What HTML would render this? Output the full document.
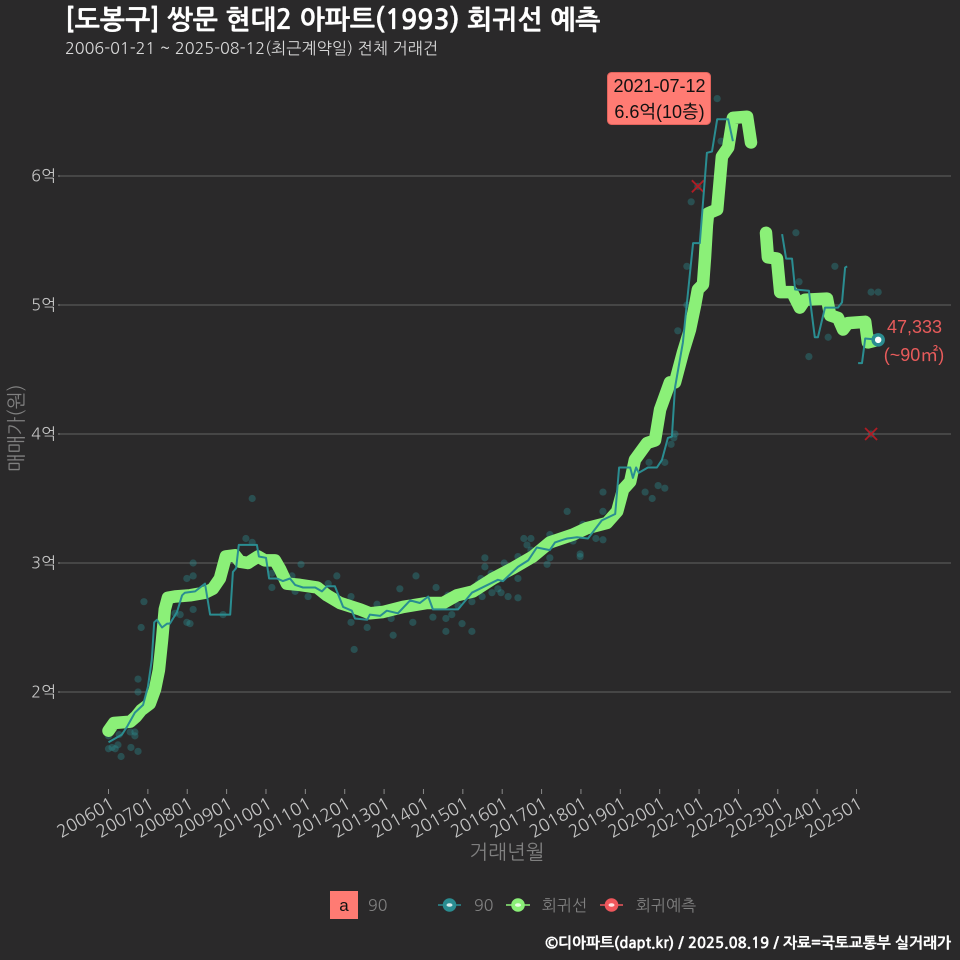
<!DOCTYPE html>
<html lang="ko">
<head>
<meta charset="utf-8">
<title>쌍문 현대2 아파트 회귀선 예측</title>
<style>
html,body{margin:0;padding:0;background:#2a292a;width:960px;height:960px;overflow:hidden}
svg{display:block}
text{font-family:"NanumGothic","Noto Sans CJK KR","Liberation Sans",sans-serif}
.sans{font-family:"Liberation Sans","Noto Sans CJK KR",sans-serif}
</style>
</head>
<body>
<svg id="chart" width="960" height="960" viewBox="0 0 960 960" xmlns="http://www.w3.org/2000/svg">
  <rect x="0" y="0" width="960" height="960" fill="#2a292a"/>
  <text x="65" y="29" font-size="26.8" font-weight="700" fill="#ffffff" stroke="#ffffff" stroke-width="0.3">[도봉구] 쌍문 현대2 아파트(1993) 회귀선 예측</text>
  <text x="65" y="54" font-size="16.2" fill="#d8d8d8">2006-01-21 ~ 2025-08-12(최근계약일) 전체 거래건</text>
  <g id="grid"></g>
  <g id="yaxis"></g>
  <g id="xaxis"></g>
  <text transform="translate(23,428) rotate(-90)" text-anchor="middle" font-size="19.5" fill="#808080">매매가(원)</text>
  <text x="507" y="859" text-anchor="middle" font-size="20" fill="#808080">거래년월</text>
  <g id="scatter"></g>
  <g id="outliers"></g>
  <g id="lines"></g>
  <g id="endpoint"></g>

  <g>
    <rect x="607.5" y="72.5" width="103" height="52" rx="4" fill="#ff7b73" stroke="#e2635c" stroke-width="1"/>
    <text class="sans" x="659.5" y="92" text-anchor="middle" font-size="18" fill="#111">2021-07-12</text>
    <text class="sans" x="659.5" y="118" text-anchor="middle" font-size="18" fill="#111">6.6억(10층)</text>
  </g>
  <text class="sans" x="914.5" y="333" text-anchor="middle" font-size="18" fill="#e85b5b">47,333</text>
  <text class="sans" x="914" y="361" text-anchor="middle" font-size="18" fill="#e85b5b">(~90㎡)</text>

  <g>
    <rect x="330" y="891" width="28" height="28" fill="#ff7b73"/>
    <text class="sans" x="344" y="911" text-anchor="middle" font-size="17" fill="#111">a</text>
    <text x="368" y="911" font-size="16" fill="#808080">90</text>

    <g>
      <line x1="438" x2="461" y1="905" y2="905" stroke="#2a8d91" stroke-width="1.5"/>
      <circle cx="449.5" cy="905" r="6.8" fill="#2a8d91"/>
      <ellipse cx="449.5" cy="905" rx="3" ry="1.8" fill="#d8ecec"/>
      <text x="474" y="911" font-size="16" fill="#808080">90</text>
    </g>
    <g>
      <line x1="506" x2="530" y1="905" y2="905" stroke="#8bf078" stroke-width="1.5"/>
      <circle cx="518" cy="905" r="6.8" fill="#8bf078"/>
      <ellipse cx="518" cy="905" rx="3" ry="1.8" fill="#e8fbe3"/>
      <text x="542" y="911" font-size="16" fill="#808080">회귀선</text>
    </g>
    <g>
      <line x1="600" x2="623" y1="905" y2="905" stroke="#f0575c" stroke-width="1.5"/>
      <circle cx="611.5" cy="905" r="6.8" fill="#f0575c"/>
      <ellipse cx="611.5" cy="905" rx="3" ry="1.8" fill="#fde3e3"/>
      <text x="636" y="911" font-size="16" fill="#808080">회귀예측</text>
    </g>
  </g>
  <text x="951" y="948" text-anchor="end" font-size="14.9" font-weight="700" fill="#ffffff" stroke="#ffffff" stroke-width="0.3">©디아파트(dapt.kr) / 2025.08.19 / 자료=국토교통부 실거래가</text>
</svg>
<script>
// ---- tick labels ----
var yTickValues = [2, 3, 4, 5, 6];
var yTickLabels = ['2억', '3억', '4억', '5억', '6억'];
var xTickYears = [2006,2007,2008,2009,2010,2011,2012,2013,2014,2015,2016,2017,2018,2019,2020,2021,2022,2023,2024,2025];
var xTickLabels = ['200601','200701','200801','200901','201001','201101','201201','201301','201401','201501','201601','201701','201801','201901','202001','202101','202201','202301','202401','202501'];

// ---- regression line (time in decimal years, price in 억; null = gap) ----
var regTimes = [2006.00,2006.14,2006.55,2006.70,2006.83,2007.05,2007.18,2007.28,2007.36,2007.43,2007.51,2007.69,2008.07,2008.45,2008.65,2008.83,2008.98,2009.21,2009.34,2009.54,2009.64,2009.80,2009.97,2010.23,2010.36,2010.53,2010.86,2011.30,2011.55,2011.88,2012.39,2012.64,2012.97,2013.48,2014.09,2014.50,2014.85,2015.26,2015.77,2016.27,2016.78,2017.21,2017.80,2018.15,2018.66,2018.92,2019.07,2019.25,2019.37,2019.68,2019.88,2020.01,2020.26,2020.39,2020.59,2020.77,2020.90,2020.97,2021.10,2021.15,2021.20,2021.23,2021.46,2021.58,2021.74,2021.86,2022.22,2022.32,null,2022.70,2022.75,2022.98,2023.06,2023.36,2023.56,2023.69,2024.25,2024.33,2024.53,2024.66,2024.78,2025.22,2025.29,2025.55];
var regPrices = [1.70,1.76,1.77,1.81,1.86,1.91,2.02,2.17,2.40,2.64,2.73,2.74,2.75,2.77,2.80,2.88,3.05,3.06,3.01,3.00,3.02,3.05,3.02,3.02,2.95,2.84,2.83,2.81,2.75,2.69,2.64,2.61,2.62,2.66,2.69,2.69,2.75,2.78,2.88,2.96,3.05,3.16,3.22,3.27,3.31,3.40,3.57,3.63,3.80,3.93,3.95,4.19,4.40,4.40,4.63,4.81,5.00,5.12,5.16,5.37,5.62,5.71,5.74,6.15,6.22,6.45,6.46,6.26,null,5.56,5.37,5.36,5.10,5.10,4.98,5.04,5.05,4.92,4.90,4.81,4.86,4.87,4.71,4.73];

// ---- moving average line for 90㎡ (null = gap) ----
var avgTimes = [2006.00,2006.34,2006.47,2006.67,2006.88,2007.00,2007.10,2007.16,2007.23,2007.36,2007.49,2007.56,2007.74,2007.87,2007.94,2008.20,2008.45,2008.58,2009.09,2009.16,2009.24,2009.31,2009.77,2009.82,2010.00,2010.08,2010.28,2010.43,2010.61,2010.74,2010.94,2011.25,2011.42,2011.55,2011.75,2011.96,2012.18,2012.26,2012.57,2012.64,2012.90,2013.07,2013.35,2013.66,2013.91,2014.12,2014.24,2014.88,2015.23,2015.89,2016.02,2016.40,2016.66,2016.88,2017.21,2017.34,2017.54,2017.65,2017.90,2018.18,2018.53,2018.87,2018.97,2019.25,2019.32,2019.40,2019.47,2019.70,2019.93,2020.06,2020.21,2020.31,2020.39,2020.59,2020.77,2020.85,2021.02,2021.20,2021.33,2021.46,2021.74,2021.86,null,2023.11,2023.21,2023.36,2023.44,2023.79,2023.94,2024.02,2024.20,2024.53,2024.63,2024.71,2024.76,null,2025.04,2025.14,2025.22,2025.55];
var avgPrices = [1.61,1.67,1.73,1.84,1.90,2.04,2.25,2.54,2.56,2.50,2.53,2.53,2.62,2.75,2.77,2.78,2.84,2.60,2.60,2.93,2.96,3.14,3.14,3.05,3.04,2.88,2.88,2.86,2.88,2.83,2.81,2.81,2.78,2.82,2.82,2.66,2.63,2.57,2.56,2.60,2.59,2.63,2.61,2.71,2.69,2.74,2.64,2.64,2.77,2.87,2.86,2.97,3.02,3.12,3.10,3.16,3.18,3.19,3.20,3.19,3.33,3.38,3.74,3.74,3.66,3.74,3.70,3.74,3.74,3.80,3.97,3.98,4.36,4.71,5.25,5.48,5.48,6.18,6.19,6.44,6.44,6.27,null,5.55,5.36,5.36,5.12,5.11,4.75,4.75,4.98,4.98,5.02,5.29,5.30,null,4.55,4.55,4.74,4.73];

// ---- individual transactions ----
var dealTimes = [2009.65,2009.49,2009.65,2008.15,2008.15,2007.99,2006.90,2006.83,2006.75,2006.75,2008.15,2007.82,2007.99,2008.07,2008.91,2007.69,2010.15,2010.15,2010.74,2011.07,2010.66,2010.89,2011.58,2011.80,2012.16,2012.16,2012.24,2006.57,2006.75,2006.32,2006.00,2006.17,2006.24,2006.09,2006.27,2006.55,2006.67,2006.67,2006.00,2012.57,2013.23,2012.82,2013.18,2013.73,2013.40,2013.81,2014.24,2014.32,2014.57,2014.57,2014.72,2014.98,2015.23,2014.88,2015.23,2014.62,2015.49,2015.74,2015.97,2016.15,2016.40,2016.40,2015.89,2015.39,2015.46,2015.72,2015.56,2015.56,2016.05,2016.40,2016.55,2016.73,2016.63,2016.73,2017.21,2017.14,2017.21,2017.65,2018.05,2017.80,2017.98,2017.98,2018.38,2018.56,2018.56,2018.56,2019.63,2019.81,2019.96,2020.13,2019.73,2020.13,2020.39,2020.36,2020.29,2020.46,2020.69,2020.69,2021.46,2021.56,2020.80,2023.46,2023.54,2024.45,2024.28,2023.79,2025.37,2025.55,2020.97,2025.37];
var dealPrices = [3.50,3.19,3.16,3.00,2.90,2.88,2.70,2.50,2.10,2.00,2.64,2.60,2.54,2.53,2.60,2.61,2.81,2.92,2.78,2.74,2.90,2.99,2.84,2.90,2.74,2.54,2.33,1.57,1.54,1.50,1.56,1.56,1.59,1.57,1.67,1.69,1.69,1.66,1.66,2.50,2.44,2.68,2.57,2.54,2.80,2.90,2.58,2.81,2.57,2.47,2.60,2.53,2.47,2.67,2.70,2.75,2.74,2.77,2.77,2.74,2.73,2.88,2.80,2.84,2.88,2.92,2.97,3.04,3.00,3.05,3.19,3.19,3.14,3.10,3.04,2.99,3.22,3.40,3.30,3.17,3.07,3.05,3.19,3.18,3.40,3.55,3.55,3.50,3.60,3.58,3.78,3.78,4.00,3.97,3.92,4.80,5.30,5.00,6.60,6.27,5.80,5.56,5.18,5.30,4.75,4.60,5.10,5.10,5.92,4.00];

// ---- outlier deals and latest point ----
var outlierTimes = [2020.97, 2025.37];
var outlierPrices = [5.92, 4.00];
var latestTime = [2025.55];
var latestPrice = [4.73];

// ---- axis functions ----
function xScale(t) { return 108.5 + (t - 2006) * 39.37; }
function yScale(v) { return 692 - (v - 2) * 129; }

var NS = 'http://www.w3.org/2000/svg';
function mk(tag, parent, attrs) {
  var el = document.createElementNS(NS, tag);
  for (var k in attrs) el.setAttribute(k, attrs[k]);
  document.getElementById(parent).appendChild(el);
  return el;
}
function linePath(times, prices) {
  var d = '', pen = false;
  for (var i = 0; i < times.length; i++) {
    if (times[i] === null || prices[i] === null) { pen = false; continue; }
    d += (pen ? 'L' : 'M') + xScale(times[i]).toFixed(1) + ' ' + yScale(prices[i]).toFixed(1);
    pen = true;
  }
  return d;
}

// gridlines and y axis
yTickValues.forEach(function (v, i) {
  var y = yScale(v);
  var g = mk('line', 'grid', {x1: 60, x2: 951, y1: y, y2: y, stroke: '#636363', 'stroke-width': 1.1});
  
  
  var t = mk('line', 'yaxis', {x1: 58, x2: 60, y1: y, y2: y, stroke: '#8a8a8a', 'stroke-width': 1});
  
  
  var l = mk('text', 'yaxis', {x: 56, y: y + 5.5, 'text-anchor': 'end', 'font-size': 16, fill: '#c4c4c4'});
  
  
  l.textContent = yTickLabels[i];
});

// x axis
xTickYears.forEach(function (yr, i) {
  var x = xScale(yr);
  var t = mk('line', 'xaxis', {x1: x, x2: x, y1: 789, y2: 794, stroke: '#8a8a8a', 'stroke-width': 1});
  
  
  var l = mk('text', 'xaxis', {transform: 'translate(' + (x + 7) + ',807) rotate(-30)', 'text-anchor': 'end', 'font-size': 17.2, fill: '#c4c4c4'});
  
  
  l.textContent = xTickLabels[i];
});

// transaction points
dealTimes.forEach(function (t, i) {
  var c = mk('circle', 'scatter', {cx: xScale(t), cy: yScale(dealPrices[i]), r: 3.6, fill: '#2a8d91', 'fill-opacity': 0.38});
  
  
});

// outlier crosses
outlierTimes.forEach(function (t, i) {
  var x = xScale(t), y = yScale(outlierPrices[i]);
  var a = mk('path', 'outliers', {d: 'M' + (x - 6) + ' ' + (y - 6) + 'L' + (x + 6) + ' ' + (y + 6) + 'M' + (x - 6) + ' ' + (y + 6) + 'L' + (x + 6) + ' ' + (y - 6), stroke: '#b01c24', 'stroke-width': 1.8, fill: 'none'});
  
  
});

// lines
var regLine = mk('path', 'lines', {d: linePath(regTimes, regPrices), fill: 'none', stroke: '#8bf078', 'stroke-width': 12.5, 'stroke-linejoin': 'round', 'stroke-linecap': 'round'});


var avgLine = mk('path', 'lines', {d: linePath(avgTimes, avgPrices), fill: 'none', stroke: '#2a8d91', 'stroke-width': 2, 'stroke-linejoin': 'round', 'stroke-linecap': 'butt'});



// latest point
var lx = xScale(latestTime[0]), ly = yScale(latestPrice[0]);
var lo = mk('circle', 'endpoint', {cx: lx, cy: ly, r: 5, fill: '#ffffff', stroke: '#2a8d91', 'stroke-width': 3.5});


</script>
</body>
</html>
